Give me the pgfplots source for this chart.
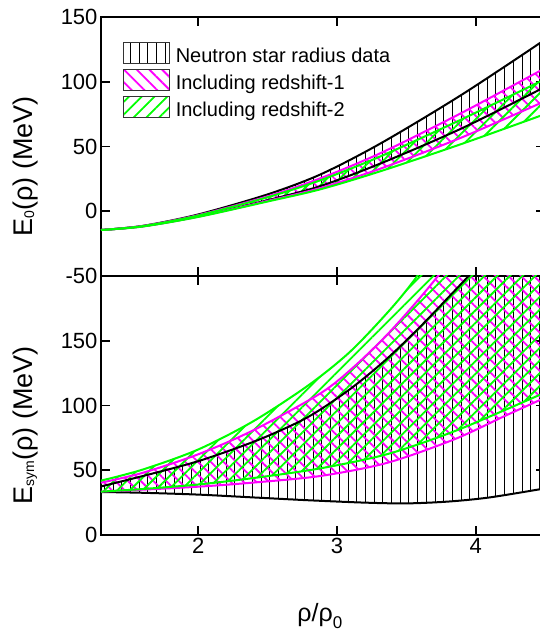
\documentclass[border=0pt]{standalone}
\usepackage{pgfplots}
\pgfplotsset{compat=1.18}
\usepackage{pgfplotstable}
\usepgfplotslibrary{fillbetween}
\usetikzlibrary{patterns.meta}
\usepackage{fontspec}
\setmainfont{Liberation Sans}
\definecolor{mag}{RGB}{255,0,255}
\definecolor{grn}{RGB}{0,255,0}
\newcommand{\sub}[1]{\raisebox{-2pt}{\fontsize{14}{14}\selectfont #1}}

% ---- top panel: E0(rho)
\pgfplotstableread{
x y
1.3 -14.5
1.6 -11.3
2.0 -2.5
2.5 13
2.883 28.5
3.317 52.5
3.9 90
4.5 132.5
}\tbU
\pgfplotstableread{
x y
1.3 -14.5
1.6 -11.6
2.0 -4
2.5 8.5
2.883 19.5
3.317 37
3.9 64
4.5 96
}\tbL
\pgfplotstableread{
x y
1.3 -14.5
1.6 -11.4
2.0 -3
2.5 11.5
2.883 25.5
3.317 45
3.9 76
4.5 110.5
}\tmU
\pgfplotstableread{
x y
1.3 -14.5
1.6 -11.7
2.0 -4.2
2.5 8
2.883 18
3.317 33
3.9 57
4.5 85
}\tmL
\pgfplotstableread{
x y
1.3 -14.5
1.6 -11.5
2.0 -3.3
2.5 10.8
2.883 24
3.317 42.5
3.9 71
4.5 102
}\tgU
\pgfplotstableread{
x y
1.3 -14.5
1.6 -11.8
2.0 -4.4
2.5 7.5
2.883 17
3.317 31
3.9 52
4.5 75
}\tgL

% ---- bottom panel: Esym(rho)
\pgfplotstableread{
x y
1.3 37.5
1.6 45.5
2.0 57
2.4 72
2.7 86
2.883 97
3.124 115
3.365 136.5
3.606 161.4
3.847 188.4
4.0 206
4.2 232
4.5 275
}\sbU
\pgfplotstableread{
x y
1.3 33.2
1.6 32.6
2.0 31.2
2.4 29
2.8 26.8
3.2 25
3.5 24.4
3.8 25.8
4.1 29
4.5 36
}\sbL
\pgfplotstableread{
x y
1.3 40.4
1.6 48
2.0 62.3
2.4 81
2.883 109.5
3.124 130
3.365 155
3.606 184
3.8 210
4.1 255
4.5 330
}\smU
\pgfplotstableread{
x y
1.3 33.5
1.6 35
2.0 37.3
2.4 40.5
2.883 45.6
3.365 55.8
3.847 73.9
4.21 91.9
4.5 106
}\smL
\pgfplotstableread{
x y
1.3 42
1.6 50.5
2.0 66
2.4 88
2.8 116
3.1 142
3.4 176
3.6 203
3.9 250
4.5 370
}\sgU
\pgfplotstableread{
x y
1.3 33.5
1.6 35.5
2.0 39
2.4 44
2.883 51.5
3.365 62.5
3.82 79
4.2 96
4.5 110
}\sgL

\begin{document}
\begin{tikzpicture}
\pgfplotsset{
  panel/.style={
    scale only axis, width=444pt, height=259pt,
    xmin=1.3, xmax=4.5,
    axis line style={line width=1.8pt},
    tick style={line width=1.8pt, black},
    major tick length=9pt,
    tick align=inside,
    xtick={2,3,4},
    tick label style={font=\fontsize{22}{22}\selectfont},
    ylabel style={font=\fontsize{27}{27}\selectfont},
    xlabel style={font=\fontsize{25}{25}\selectfont},
  },
  bnd/.style={line width=2pt, smooth, forget plot},
  hid/.style={draw=none, smooth, forget plot},
  legimg/.style={legend image code/.code={\draw[##1, draw=black!80, line width=0.8pt] (0pt,-7pt) rectangle (46pt,14pt);}},
  blackpat/.style={pattern={Lines[angle=90,distance=8.7pt,line width=0.9pt]}, pattern color=black, draw=none},
  magpat/.style={pattern={Lines[angle=-45,distance=9pt,line width=1.8pt]}, pattern color=mag, draw=none},
  grnpat/.style={pattern={Lines[angle=45,distance=9pt,line width=1.8pt]}, pattern color=grn, draw=none},
}
% ---------------- top panel
\begin{axis}[panel, at={(0pt,259pt)}, anchor=south west,
  ymin=-50, ymax=150, ytick={-50,0,50,100,150}, yticklabels={-50,0,50,100,150},
  xticklabels={,,},
  ylabel={E\sub{0}(ρ) (MeV)},
  ylabel style={at={(axis description cs:-0.171,0.423)}, anchor=center},
  legend style={at={(axis description cs:0.0495,0.9035)}, anchor=north west,
    draw=none, fill=none, inner sep=0pt, outer sep=0pt,
    font=\fontsize{20}{20}\selectfont, row sep=4.5pt, column sep=6pt,
    nodes={inner sep=0pt}},
  legend cell align=left,
]
\addplot[hid, name path=tbU] table {\tbU};
\addplot[hid, name path=tbL] table {\tbL};
\addplot[hid, name path=tmU] table {\tmU};
\addplot[hid, name path=tmL] table {\tmL};
\addplot[hid, name path=tgU] table {\tgU};
\addplot[hid, name path=tgL] table {\tgL};
\addplot[blackpat, legimg] fill between[of=tbU and tbL];
\addlegendentry{Neutron star radius data}
\addplot[magpat, legimg] fill between[of=tmU and tmL];
\addlegendentry{Including redshift-1}
\addplot[grnpat, legimg] fill between[of=tgU and tgL];
\addlegendentry{Including redshift-2}
\addplot[bnd, black] table {\tbU};
\addplot[bnd, black] table {\tbL};
\addplot[bnd, mag] table {\tmU};
\addplot[bnd, mag] table {\tmL};
\addplot[bnd, grn] table {\tgU};
\addplot[bnd, grn] table {\tgL};
\end{axis}
% ---------------- bottom panel
\begin{axis}[panel, at={(0pt,0pt)}, anchor=south west,
  ymin=0, ymax=200, ytick={0,50,100,150}, yticklabels={0,50,100,150},
  xticklabels={2,3,4},
  ylabel={E\sub{sym}(ρ) (MeV)},
  ylabel style={at={(axis description cs:-0.171,0.423)}, anchor=center},
  xlabel={ρ/ρ\raisebox{-7pt}{\fontsize{17}{17}\selectfont 0}},
  xlabel style={at={(axis description cs:0.493,-0.3127)}, anchor=center},
]
\addplot[hid, name path=sbU] table {\sbU};
\addplot[hid, name path=sbL] table {\sbL};
\addplot[hid, name path=smU] table {\smU};
\addplot[hid, name path=smL] table {\smL};
\addplot[hid, name path=sgU] table {\sgU};
\addplot[hid, name path=sgL] table {\sgL};
\addplot[blackpat] fill between[of=sbU and sbL];
\addplot[magpat] fill between[of=smU and smL];
\addplot[grnpat] fill between[of=sgU and sgL];
\addplot[bnd, black] table {\sbU};
\addplot[bnd, black] table {\sbL};
\addplot[bnd, mag] table {\smU};
\addplot[bnd, mag] table {\smL};
\addplot[bnd, grn] table {\sgU};
\addplot[bnd, grn] table {\sgL};
\end{axis}
\pgfresetboundingbox
\useasboundingbox (-101pt,-98pt) rectangle (439pt,535pt);
\end{tikzpicture}
\end{document}
